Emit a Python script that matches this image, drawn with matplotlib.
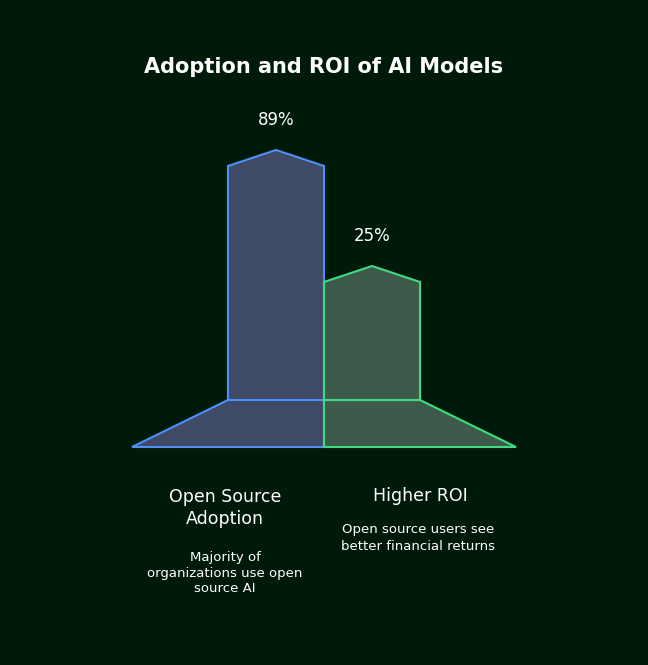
import matplotlib
matplotlib.use("Agg")
import matplotlib.pyplot as plt
from matplotlib.patches import Polygon

categories = ["Open Source\nAdoption", "Higher ROI"]
values = [89, 25]
value_labels = ["89%", "25%"]
descriptions = ["Majority of\norganizations use open\nsource AI", "Open source users see\nbetter financial returns"]

edge_colors = ["#4f8ff7", "#3ddc84"]
fill_colors = ["#3e4a66", "#3d5a4a"]
bg = "#001a0a"

fig = plt.figure(figsize=(6.48, 6.65), dpi=100, facecolor=bg)
ax = fig.add_axes([0, 0, 1, 1])
ax.set_xlim(0, 648)
ax.set_ylim(665, 0)
ax.axis("off")
ax.set_facecolor(bg)

base_y = 400
ground = 447
w = 96
peak = 16
x0 = 228

def height(v):
    return 72.7 + 1.8125 * v

for i, (v, lab) in enumerate(zip(values, value_labels)):
    left = x0 + i * w
    right = left + w
    top = base_y - height(v)
    col = [(left, base_y), (left, top), (left + w / 2, top - peak), (right, top), (right, base_y)]
    if i == 0:
        base = [(left - w, ground), (left, base_y), (right, base_y), (right, ground)]
    else:
        base = [(left, ground), (left, base_y), (right, base_y), (right + w, ground)]
    for pts in (base, col):
        ax.add_patch(Polygon(pts, closed=True, facecolor=fill_colors[i],
                             edgecolor=edge_colors[i], linewidth=1.5, joinstyle="miter"))
    ax.text(left + w / 2, top - peak - 30, lab, color="white", fontsize=12,
            ha="center", va="center")

ax.text(324, 67, "Adoption and ROI of AI Models", color="white", fontsize=15,
        fontweight="bold", ha="center", va="center")

name_x = [225, 420]
ax.text(name_x[0], 508, categories[0], color="white", fontsize=12.5, ha="center",
        va="center", linespacing=1.3)
ax.text(name_x[1], 496, categories[1], color="white", fontsize=12.5, ha="center", va="center")
ax.text(name_x[0], 573, descriptions[0], color="white", fontsize=9.5, ha="center",
        va="center", linespacing=1.3)
ax.text(418, 538, descriptions[1], color="white", fontsize=9.5, ha="center",
        va="center", linespacing=1.3)

fig.savefig("out.png", dpi=100, facecolor=bg)
